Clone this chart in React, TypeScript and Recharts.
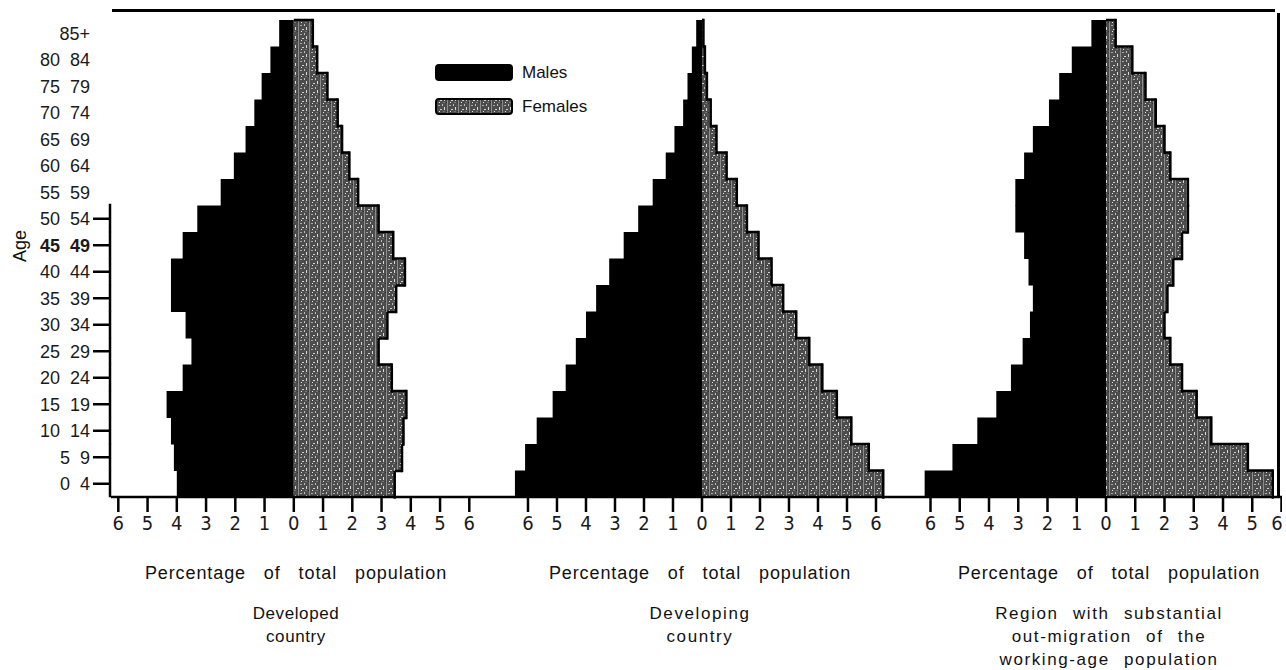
import React from "react";
import { BarChart, Bar, XAxis, YAxis, Legend } from "recharts";

// age bands, youngest first
const ageGroups = [
  "0 4", "5 9", "10 14", "15 19", "20 24", "25 29", "30 34", "35 39", "40 44",
  "45 49", "50 54", "55 59", "60 64", "65 69", "70 74", "75 79", "80 84", "85+",
];

// percent of total population
const developedMales = [4.0, 4.1, 4.2, 4.35, 3.8, 3.5, 3.7, 4.2, 4.2, 3.8, 3.3, 2.5, 2.05, 1.65, 1.35, 1.1, 0.8, 0.5];
const developedFemales = [3.45, 3.7, 3.75, 3.85, 3.35, 2.9, 3.2, 3.5, 3.8, 3.4, 2.9, 2.2, 1.9, 1.65, 1.5, 1.15, 0.8, 0.65];

const developingMales = [6.45, 6.1, 5.7, 5.15, 4.7, 4.35, 4.0, 3.65, 3.2, 2.7, 2.2, 1.7, 1.25, 0.95, 0.65, 0.5, 0.35, 0.2];
const developingFemales = [6.25, 5.75, 5.15, 4.65, 4.15, 3.7, 3.25, 2.8, 2.4, 1.95, 1.55, 1.2, 0.85, 0.5, 0.3, 0.17, 0.1, 0.05];

const migrationMales = [6.2, 5.25, 4.4, 3.75, 3.25, 2.85, 2.6, 2.5, 2.65, 2.8, 3.1, 3.1, 2.8, 2.5, 1.95, 1.6, 1.17, 0.5];
const migrationFemales = [5.7, 4.85, 3.6, 3.1, 2.6, 2.2, 2.0, 2.1, 2.3, 2.6, 2.8, 2.8, 2.2, 2.0, 1.7, 1.35, 0.9, 0.33];

const xTicks = [-6, -5, -4, -3, -2, -1, 0, 1, 2, 3, 4, 5, 6];
const axisTitle = "Percentage of total population";

const sans = "'Liberation Sans', Arial, Helvetica, sans-serif";
const narrow = "'Liberation Sans Narrow', 'DejaVu Sans Condensed', sans-serif";

function buildRows(males: number[], females: number[]) {
  return ageGroups.map((age, i) => ({ age, male: -males[i], female: females[i] }));
}

function Texture({ id }: { id: string }) {
  return (
    <defs>
      <pattern id={id} width={11} height={9} patternUnits="userSpaceOnUse">
        <rect width={11} height={9} fill="#4c4c4c" />
        <rect x={1} y={0} width={1} height={9} fill="#8c8c8c" />
        <rect x={5} y={2} width={2} height={1} fill="#d0d0d0" />
        <rect x={7} y={6} width={1} height={2} fill="#bcbcbc" />
        <rect x={3} y={7} width={2} height={1} fill="#a8a8a8" />
        <rect x={9} y={0} width={1} height={3} fill="#d8d8d8" />
        <rect x={0} y={4} width={1} height={1} fill="#2a2a2a" />
        <rect x={4} y={4} width={1} height={1} fill="#e6e6e6" />
        <rect x={8} y={4} width={2} height={1} fill="#777" />
      </pattern>
    </defs>
  );
}

// textured female bar with a black outline on its outer edge and the steps
const makeFemaleShape = (values: number[]) => (props: any) => {
  const { x, y, width, height, fill, index } = props;
  if (!width || !height) return null;
  const v = values[index];
  const k = width / v;
  const above = index + 1 < values.length ? values[index + 1] : 0;
  const below = index > 0 ? values[index - 1] : v;
  return (
    <g>
      <rect x={x} y={y} width={width} height={height} fill={fill} />
      <line x1={x + width} x2={x + width} y1={y - 1.2} y2={y + height + 1.2} stroke="#000" strokeWidth={2.5} />
      {above < v && <line x1={x + above * k} x2={x + width} y1={y} y2={y} stroke="#000" strokeWidth={2.5} />}
      {below < v && (
        <line x1={x + below * k} x2={x + width} y1={y + height} y2={y + height} stroke="#000" strokeWidth={2.5} />
      )}
    </g>
  );
};

const AgeTick = (props: any) => {
  const { y, payload } = props;
  const label = payload.value as string;
  const idx = ageGroups.indexOf(label);
  const marked = idx <= 10;
  return (
    <g>
      {marked && <line x1={93} x2={110} y1={y} y2={y} stroke="#000" strokeWidth={2.5} />}
      {marked && (
        <line x1={110} x2={110} y1={y - (idx === 10 ? 15 : 13.5)} y2={y + 13.5} stroke="#000" strokeWidth={2.5} />
      )}
      <text
        x={90}
        y={y}
        dy="0.36em"
        textAnchor="end"
        fontFamily={sans}
        fontSize={18}
        fontWeight={label === "45 49" ? 700 : 400}
        fill="#1a1a1a"
        style={{ wordSpacing: 5 }}
      >
        {label}
      </text>
    </g>
  );
};

const LegendBox = ({ texId }: { texId: string }) => (
  <div style={{ fontFamily: sans, fontSize: 17, color: "#111" }}>
    {[
      { name: "Males", fill: "#000" },
      { name: "Females", fill: `url(#${texId})` },
    ].map((it, i) => (
      <div key={it.name} style={{ display: "flex", alignItems: "center", height: 17, marginBottom: i === 0 ? 17 : 0 }}>
        <svg width={78} height={17} style={{ marginRight: 9 }}>
          <rect x={1} y={1} width={76} height={15} rx={3} fill={it.fill} stroke="#000" strokeWidth={2} />
        </svg>
        <span>{it.name}</span>
      </div>
    ))}
  </div>
);

type PanelProps = {
  id: string;
  males: number[];
  females: number[];
  left: number;
  width: number;
  marginLeft: number;
  domain: [number, number];
  ageAxis?: boolean;
  legend?: boolean;
};

function Pyramid({ id, males, females, left, width, marginLeft, domain, ageAxis, legend }: PanelProps) {
  const data = buildRows(males, females);
  const texId = `tex-${id}`;
  const FemaleShape = makeFemaleShape(females);
  return (
    <div style={{ position: "absolute", left, top: 0 }}>
      <BarChart
        width={width}
        height={540}
        data={data}
        layout="vertical"
        stackOffset="sign"
        barCategoryGap={0}
        margin={{ top: 20, right: 0, bottom: 0, left: marginLeft }}
      >
        <Texture id={texId} />
        <XAxis
          type="number"
          domain={domain}
          ticks={xTicks}
          allowDataOverflow
          tickFormatter={(v: number) => String(Math.abs(v))}
          height={43}
          tickSize={15}
          tickMargin={4}
          axisLine={{ stroke: "#000", strokeWidth: 2.5 }}
          tickLine={{ stroke: "#000", strokeWidth: 2.5 }}
          tick={{ fill: "#1a1a1a", fontSize: 20, fontFamily: narrow }}
        />
        <YAxis
          type="category"
          dataKey="age"
          reversed
          hide={!ageAxis}
          width={ageAxis ? 111 : 0}
          axisLine={false}
          tickLine={false}
          interval={0}
          tick={<AgeTick />}
        />
        {legend && (
          <Legend
            layout="horizontal"
            verticalAlign="middle"
            align="center"
            wrapperStyle={{ left: 35, top: 64, width: 220 }}
            content={() => <LegendBox texId={texId} />}
          />
        )}
        <Bar dataKey="male" name="Males" stackId="s" fill="#000" isAnimationActive={false} />
        <Bar
          dataKey="female"
          name="Females"
          stackId="s"
          fill={`url(#${texId})`}
          shape={FemaleShape}
          isAnimationActive={false}
        />
      </BarChart>
    </div>
  );
}

const captionStyle: React.CSSProperties = {
  position: "absolute",
  width: 400,
  textAlign: "center",
  fontFamily: sans,
  color: "#111",
};

function Caption({ center, lines, spaced }: { center: number; lines: string[]; spaced: boolean }) {
  return (
    <>
      <div
        style={{
          ...captionStyle,
          left: center - 200,
          top: 563,
          fontSize: 18,
          lineHeight: "20px",
          letterSpacing: 0.9,
          wordSpacing: 12,
        }}
      >
        {axisTitle}
      </div>
      <div
        style={{
          ...captionStyle,
          left: center - 200,
          top: 602,
          fontSize: 17,
          lineHeight: "23px",
          letterSpacing: spaced ? 1.6 : 0.6,
          wordSpacing: spaced ? 8 : 0,
        }}
      >
        {lines.map((l) => (
          <div key={l}>{l}</div>
        ))}
      </div>
    </>
  );
}

export default function App() {
  return (
    <div style={{ position: "absolute", left: 0, top: 0, width: 1286, height: 670, background: "#fff", overflow: "hidden" }}>
      <Pyramid
        id="developed"
        males={developedMales}
        females={developedFemales}
        left={0}
        width={496}
        marginLeft={0}
        domain={[-6.25, 6.913]}
        ageAxis
      />
      <Pyramid
        id="developing"
        males={developingMales}
        females={developingFemales}
        left={400}
        width={498}
        marginLeft={96}
        domain={[-7.103, 6.759]}
        legend
      />
      <Pyramid
        id="migration"
        males={migrationMales}
        females={migrationFemales}
        left={800}
        width={482}
        marginLeft={98}
        domain={[-7.111, 6.017]}
      />

      {/* frame pieces from the original figure */}
      <div style={{ position: "absolute", left: 112, top: 8.5, width: 1163, height: 3, background: "#000" }} />
      <div style={{ position: "absolute", left: 1277, top: 13, width: 2.5, height: 485, background: "#000" }} />

      <div
        style={{
          position: "absolute",
          left: -10,
          top: 236,
          width: 60,
          height: 20,
          lineHeight: "20px",
          textAlign: "center",
          fontFamily: sans,
          fontSize: 18,
          color: "#111",
          transform: "rotate(-90deg)",
        }}
      >
        Age
      </div>

      <Caption center={296} lines={["Developed", "country"]} spaced={false} />
      <Caption center={700} lines={["Developing", "country"]} spaced />
      <Caption center={1109} lines={["Region with substantial", "out-migration of the", "working-age population"]} spaced />
    </div>
  );
}
